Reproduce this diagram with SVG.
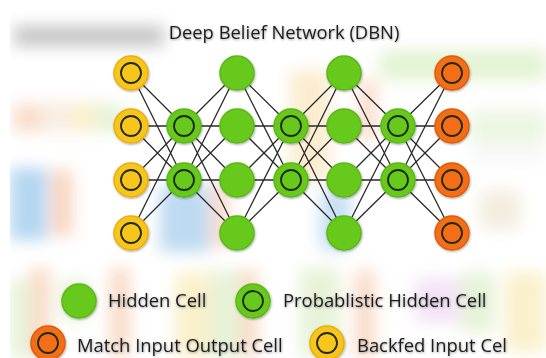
<svg xmlns="http://www.w3.org/2000/svg" width="546" height="358" viewBox="0 0 546 358">
<defs>
<filter id="bg" x="-60%" y="-60%" width="220%" height="220%"><feGaussianBlur stdDeviation="8"/></filter>
<filter id="ns" x="-30%" y="-30%" width="160%" height="160%"><feDropShadow dx="0.6" dy="1" stdDeviation="1.2" flood-color="#000" flood-opacity="0.35"/></filter>
<filter id="ts" x="-10%" y="-30%" width="120%" height="160%"><feDropShadow dx="0.5" dy="0.8" stdDeviation="1" flood-color="#000" flood-opacity="0.4"/></filter>
</defs>
<style>
.e{stroke:#2a2a2a;stroke-width:1.3;fill:none}
.g{fill:#66c91c;stroke:#5cb818;stroke-width:1.5;filter:url(#ns)}
.y{fill:#f8c51c;stroke:#e6b010;stroke-width:1.5;filter:url(#ns)}
.o{fill:#f36e14;stroke:#dc5e0c;stroke-width:1.5;filter:url(#ns)}
.r{fill:none;stroke:#1f2a12;stroke-width:1.8}
.t{font-family:"Open Sans","Noto Sans",sans-serif;fill:#1e1e1e;font-size:18.4px;filter:url(#ts)}
</style>
<rect width="546" height="358" fill="#ffffff"/>
<g id="background" filter="url(#bg)" opacity="0.5">
<rect x="14" y="26" width="150" height="20" fill="#8a8a8a"/>
<rect x="10" y="102" width="90" height="30" fill="#f4dcc4"/>
<rect x="18" y="108" width="22" height="22" fill="#f2b08a"/>
<rect x="72" y="104" width="22" height="28" fill="#f6e29a"/>
<rect x="95" y="104" width="30" height="28" fill="#cfe6b2"/>
<rect x="10" y="168" width="38" height="72" fill="#6aaee2"/>
<rect x="52" y="170" width="20" height="66" fill="#f2a878"/>
<rect x="160" y="186" width="50" height="66" fill="#7cb6e2"/>
<rect x="212" y="182" width="16" height="66" fill="#f2b08c"/>
<rect x="290" y="70" width="40" height="110" fill="#f6dca0"/>
<rect x="320" y="190" width="30" height="60" fill="#8cbfe6"/>
<rect x="360" y="80" width="16" height="60" fill="#f4b48c"/>
<rect x="380" y="50" width="166" height="30" fill="#c8e6a8"/>
<rect x="470" y="110" width="76" height="34" fill="#d8eec4"/>
<rect x="470" y="150" width="76" height="10" fill="#e8e8e8"/>
<rect x="480" y="190" width="40" height="40" fill="#e8dcc0"/>
<rect x="10" y="280" width="20" height="78" fill="#cfe6b2"/>
<rect x="30" y="268" width="20" height="90" fill="#f2b892"/>
<rect x="60" y="280" width="30" height="40" fill="#cfe6b2"/>
<rect x="110" y="268" width="20" height="90" fill="#f2b892"/>
<rect x="175" y="272" width="35" height="86" fill="#f6e29a"/>
<rect x="210" y="270" width="30" height="88" fill="#cfe6b2"/>
<rect x="240" y="270" width="18" height="88" fill="#f2b892"/>
<rect x="300" y="268" width="40" height="90" fill="#cfe6b2"/>
<rect x="355" y="270" width="20" height="88" fill="#f2b892"/>
<rect x="415" y="278" width="45" height="45" fill="#e8c8ec"/>
<rect x="460" y="272" width="35" height="60" fill="#cfe6b2"/>
<rect x="505" y="272" width="41" height="80" fill="#f6e29a"/>
</g>
<rect x="0" y="0" width="10" height="358" fill="#ffffff"/>
<text class="t" x="284" y="39" text-anchor="middle">Deep Belief Network (DBN)</text>
<g id="connectors">
<path class="e" d="M131 73L184 126M131 73L184 180M131 126L184 126M131 126L184 180M131 180L184 126M131 180L184 180M131 233L184 126M131 233L184 180"/>
<path class="e" d="M184 126L237 73M184 126L237 126M184 126L237 180M184 126L237 233M184 180L237 73M184 180L237 126M184 180L237 180M184 180L237 233"/>
<path class="e" d="M237 73L291 126M237 73L291 180M237 126L291 126M237 126L291 180M237 180L291 126M237 180L291 180M237 233L291 126M237 233L291 180"/>
<path class="e" d="M291 126L344 73M291 126L344 126M291 126L344 180M291 126L344 233M291 180L344 73M291 180L344 126M291 180L344 180M291 180L344 233"/>
<path class="e" d="M344 73L398 126M344 73L398 180M344 126L398 126M344 126L398 180M344 180L398 126M344 180L398 180M344 233L398 126M344 233L398 180"/>
<path class="e" d="M398 126L452 73M398 126L452 126M398 126L452 180M398 126L452 233M398 180L452 73M398 180L452 126M398 180L452 180M398 180L452 233"/>
</g>
<g id="in1"><circle class="y" cx="131" cy="73" r="17"/><circle class="r" cx="131" cy="73" r="10"/></g>
<g id="in2"><circle class="y" cx="131" cy="126" r="17"/><circle class="r" cx="131" cy="126" r="10"/></g>
<g id="in3"><circle class="y" cx="131" cy="180" r="17"/><circle class="r" cx="131" cy="180" r="10"/></g>
<g id="in4"><circle class="y" cx="131" cy="233" r="17"/><circle class="r" cx="131" cy="233" r="10"/></g>
<g id="p1a"><circle class="g" cx="184" cy="126" r="17"/><circle class="r" cx="184" cy="126" r="10"/></g>
<g id="p1b"><circle class="g" cx="184" cy="180" r="17"/><circle class="r" cx="184" cy="180" r="10"/></g>
<g id="h1a"><circle class="g" cx="237" cy="73" r="17"/></g>
<g id="h1b"><circle class="g" cx="237" cy="126" r="17"/></g>
<g id="h1c"><circle class="g" cx="237" cy="180" r="17"/></g>
<g id="h1d"><circle class="g" cx="237" cy="233" r="17"/></g>
<g id="p2a"><circle class="g" cx="291" cy="126" r="17"/><circle class="r" cx="291" cy="126" r="10"/></g>
<g id="p2b"><circle class="g" cx="291" cy="180" r="17"/><circle class="r" cx="291" cy="180" r="10"/></g>
<g id="h2a"><circle class="g" cx="344" cy="73" r="17"/></g>
<g id="h2b"><circle class="g" cx="344" cy="126" r="17"/></g>
<g id="h2c"><circle class="g" cx="344" cy="180" r="17"/></g>
<g id="h2d"><circle class="g" cx="344" cy="233" r="17"/></g>
<g id="p3a"><circle class="g" cx="398" cy="126" r="17"/><circle class="r" cx="398" cy="126" r="10"/></g>
<g id="p3b"><circle class="g" cx="398" cy="180" r="17"/><circle class="r" cx="398" cy="180" r="10"/></g>
<g id="out1"><circle class="o" cx="452" cy="73" r="17"/><circle class="r" cx="452" cy="73" r="10"/></g>
<g id="out2"><circle class="o" cx="452" cy="126" r="17"/><circle class="r" cx="452" cy="126" r="10"/></g>
<g id="out3"><circle class="o" cx="452" cy="180" r="17"/><circle class="r" cx="452" cy="180" r="10"/></g>
<g id="out4"><circle class="o" cx="452" cy="233" r="17"/><circle class="r" cx="452" cy="233" r="10"/></g>
<g id="legend-hidden"><circle class="g" cx="79" cy="301" r="17"/><text class="t" x="108" y="307">Hidden Cell</text></g>
<g id="legend-prob"><circle class="g" cx="253" cy="301" r="17"/><circle class="r" cx="253" cy="301" r="10"/><text class="t" x="283" y="307">Probablistic Hidden Cell</text></g>
<g id="legend-match"><circle class="o" cx="48" cy="343" r="17"/><circle class="r" cx="48" cy="343" r="10"/><text class="t" x="77" y="352">Match Input Output Cell</text></g>
<g id="legend-backfed"><circle class="y" cx="327" cy="343" r="17"/><circle class="r" cx="327" cy="343" r="10"/><text class="t" x="357" y="352">Backfed Input Cel</text></g>
</svg>
